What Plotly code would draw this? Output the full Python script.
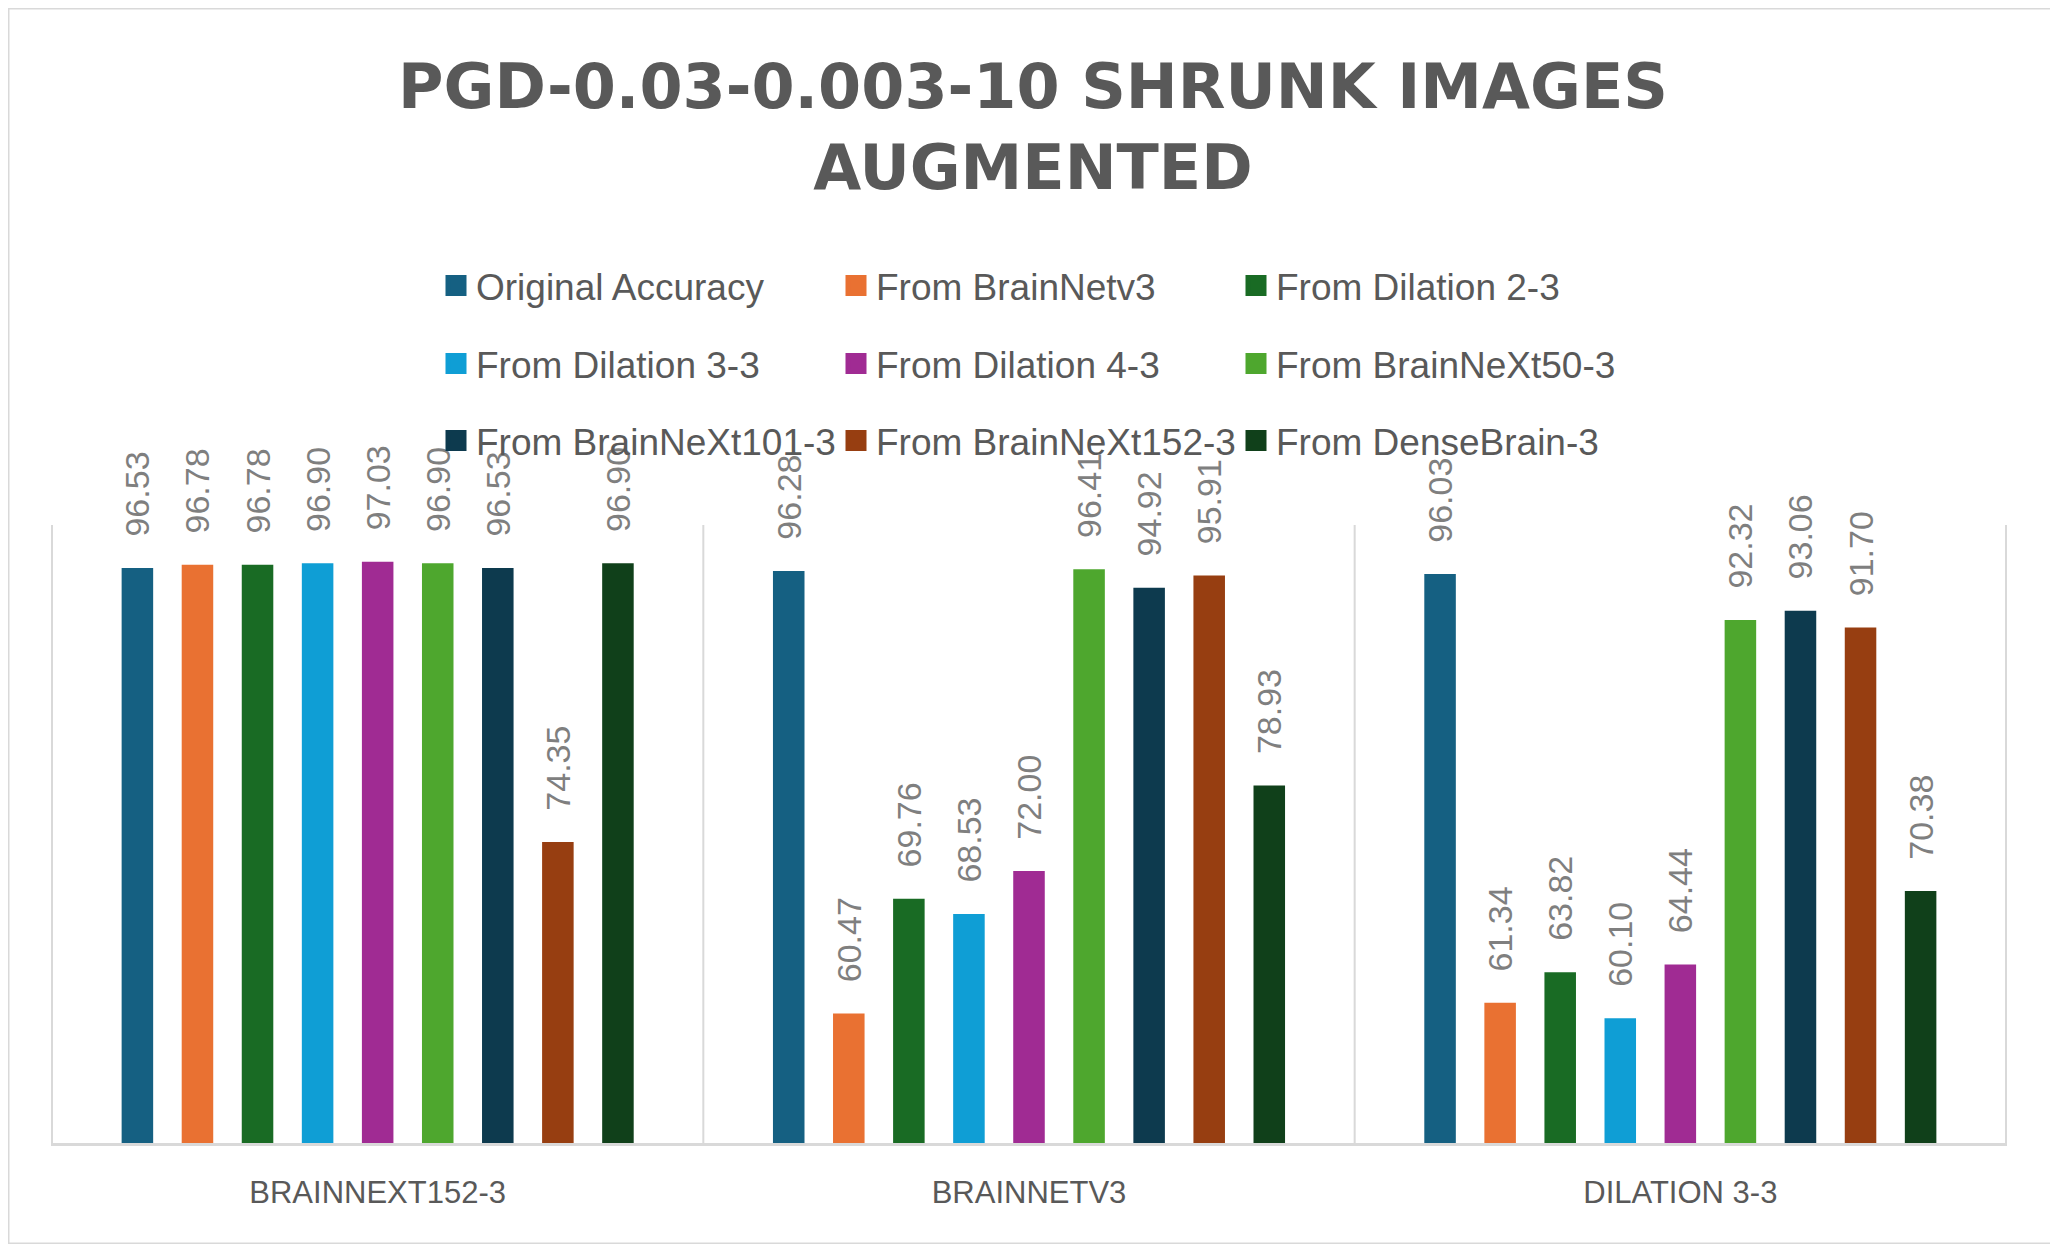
import plotly.graph_objects as go

# data
models = ["BrainNeXt152-3", "BrainNetv3", "Dilation 3-3"]
series = ["Original Accuracy", "From BrainNetv3", "From Dilation 2-3",
          "From Dilation 3-3", "From Dilation 4-3", "From BrainNeXt50-3",
          "From BrainNeXt101-3", "From BrainNeXt152-3", "From DenseBrain-3"]
original_acc = [96.53, 96.28, 96.03]
from_brainnetv3 = [96.78, 60.47, 61.34]
from_dil2 = [96.78, 69.76, 63.82]
from_dil3 = [96.90, 68.53, 60.10]
from_dil4 = [97.03, 72.00, 64.44]
from_bnx50 = [96.90, 96.41, 92.32]
from_bnx101 = [96.53, 94.92, 93.06]
from_bnx152 = [74.35, 95.91, 91.70]
from_dense = [96.90, 78.93, 70.38]
values = [original_acc, from_brainnetv3, from_dil2, from_dil3, from_dil4,
          from_bnx50, from_bnx101, from_bnx152, from_dense]
colors = ["#156082", "#E97132", "#196B24", "#0F9ED5", "#A02B93",
          "#4EA72E", "#0D3A4E", "#973E11", "#10401A"]

# the page body has an 8px margin, so the figure sits at (8, 8)
OFF = 8
W, H = 2058 - OFF, 1244 - OFF
ML, MR = 51 - OFF, 51
MT, MB = 420 - OFF, 101
plot_w = W - ML - MR
plot_h = H - MT - MB
px_per_unit = (1143 - 525) / 50.0   # 50..100 spans the gridline height
ymax = 50 + plot_h / px_per_unit

fig = go.Figure()
for name, vals, c in zip(series, values, colors):
    fig.add_trace(go.Bar(
        x=models, y=vals, name=name, marker=dict(color=c, line=dict(width=0)),
        texttemplate="\u00a0\u00a0\u00a0%{y:.2f}", textposition="outside",
        textangle=-90, constraintext="none",
        textfont=dict(family="Liberation Sans", size=34, color="#7F7F7F"),
        showlegend=False,
    ))

# legend entries (bigger squares than bar legend symbols)
legend_keys = ["legend", "legend2", "legend3"]
for i, (name, c) in enumerate(zip(series, colors)):
    fig.add_trace(go.Scatter(
        x=[None], y=[None], mode="markers", name=name,
        marker=dict(symbol="square", size=16, color=c, line=dict(color=c, width=5)),
        legend=legend_keys[i // 3], showlegend=True, hoverinfo="skip",
    ))

row_centers = [286, 364, 441]   # page pixels
leg_common = dict(orientation="h", xanchor="left", yanchor="middle",
                  font=dict(family="Liberation Sans", size=37, color="#595959"),
                  entrywidth=355, entrywidthmode="pixels", itemsizing="trace",
                  bgcolor="rgba(0,0,0,0)", traceorder="normal")
leg_x = (436 - OFF - ML) / plot_w
legends = {}
for k, yc in zip(legend_keys, row_centers):
    legends[k] = dict(leg_common, x=leg_x, y=(1143 - yc) / plot_h)

# category separators (vertical gridlines)
for b in [-0.5, 0.5, 1.5, 2.5]:
    fig.add_shape(type="line", xref="x", yref="y", x0=b, x1=b, y0=50, y1=100,
                  line=dict(color="#D9D9D9", width=2), layer="below")

# outer chart border
fig.add_shape(type="rect", xref="paper", yref="paper",
              x0=-ML / plot_w, x1=1 + MR / plot_w, y0=-MB / plot_h, y1=1 + MT / plot_h,
              line=dict(color="#D9D9D9", width=3))

fig.update_layout(
    width=W, height=H,
    margin=dict(l=ML, r=MR, t=MT, b=MB),
    paper_bgcolor="white", plot_bgcolor="white",
    barmode="group", bargap=0.17, bargroupgap=0.475,
    title=dict(text="PGD-0.03-0.003-10 SHRUNK IMAGES<br>AUGMENTED",
               x=0.5, xanchor="center", xref="container",
               y=1 - 100 / H, yanchor="top", yref="container",
               font=dict(family="DejaVu Sans", size=62, color="#595959", weight="bold")),
    **legends,
)
fig.update_xaxes(categoryorder="array", categoryarray=models,
                 showgrid=False, showline=True, linecolor="#D9D9D9", linewidth=3,
                 ticks="", ticklabelstandoff=20,
                 tickfont=dict(family="Liberation Sans", size=31, color="#595959", textcase="upper"))
fig.update_yaxes(range=[50, ymax], showgrid=False, showticklabels=False,
                 zeroline=False, showline=False)

fig.write_html("out.html")
